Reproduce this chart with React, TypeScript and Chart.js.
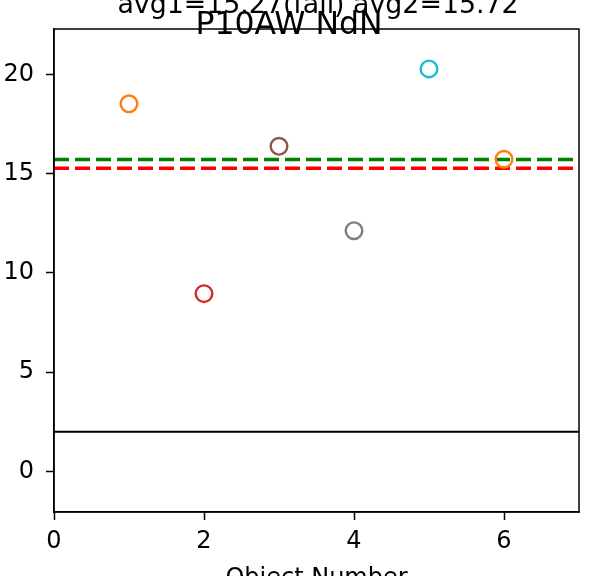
import React, { useEffect, useRef } from "react";
import { Chart, registerables } from "chart.js";

Chart.register(...registerables);

const objectNumbers = [1, 2, 3, 4, 5, 6];
const values = [18.52, 8.96, 16.38, 12.13, 20.28, 15.73];
const pointColors = ["#ff7f0e", "#d62728", "#8c564b", "#7f7f7f", "#17becf", "#ff7f0e"];
const avg1 = 15.27;
const avg2 = 15.72;
const threshold = 2;
const xTicks = [0, 2, 4, 6];
const yTicks = [0, 5, 10, 15, 20];
const titleTop = "avg1=15.27(fail) avg2=15.72";
const titleMain = "P10AW NdN";
const xLabel = "Object Number";

const FONT = "'DejaVu Sans', sans-serif";

const framePlugin = {
  id: "framePlugin",
  afterDraw(chart: any) {
    const { ctx, chartArea } = chart;
    ctx.save();
    ctx.strokeStyle = "#000";
    ctx.lineWidth = 1.5;
    ctx.strokeRect(chartArea.left, chartArea.top, chartArea.right - chartArea.left, chartArea.bottom - chartArea.top);
    ctx.fillStyle = "#000";
    ctx.textAlign = "center";
    ctx.textBaseline = "alphabetic";
    ctx.font = `26.8px ${FONT}`;
    ctx.fillText(titleTop, 318, 13);
    ctx.font = `31.5px ${FONT}`;
    ctx.fillText(titleMain, 289, 34);
    ctx.font = `24px ${FONT}`;
    ctx.fillText(xLabel, (chartArea.left + chartArea.right) / 2, 585);
    ctx.restore();
  },
};

export default function App() {
  const ref = useRef<HTMLCanvasElement>(null);
  useEffect(() => {
    if (!ref.current) return;
    const pts = objectNumbers.map((x, i) => ({ x, y: values[i] }));
    const chart = new Chart(ref.current, {
      type: "scatter",
      data: {
        datasets: [
          {
            type: "scatter",
            data: pts,
            pointRadius: 8.3,
            pointHoverRadius: 8.3,
            pointBorderWidth: 2.4,
            pointBackgroundColor: "rgba(0,0,0,0)",
            pointBorderColor: pointColors,
            order: 0,
          } as any,
          {
            type: "line",
            data: [{ x: 0, y: avg2 }, { x: 7, y: avg2 }],
            borderColor: "#008000",
            borderWidth: 3.5,
            borderDash: [15, 6],
            pointRadius: 0,
            order: 1,
          },
          {
            type: "line",
            data: [{ x: 0, y: avg1 }, { x: 7, y: avg1 }],
            borderColor: "#ff0000",
            borderWidth: 3.5,
            borderDash: [15, 6],
            pointRadius: 0,
            order: 2,
          },
          {
            type: "line",
            data: [{ x: 0, y: threshold }, { x: 7, y: threshold }],
            borderColor: "#000000",
            borderWidth: 2,
            pointRadius: 0,
            order: 3,
          },
        ],
      },
      options: {
        animation: false,
        responsive: false,
        devicePixelRatio: 1,
        layout: { padding: { top: 29, right: 11, left: 0, bottom: 0 } },
        plugins: { legend: { display: false }, tooltip: { enabled: false }, title: { display: false } },
        scales: {
          x: {
            type: "linear",
            min: 0,
            max: 7,
            afterFit: (s: any) => { s.height = 64; },
            afterBuildTicks: (s: any) => { s.ticks = xTicks.map((v) => ({ value: v })); },
            ticks: { font: { family: FONT, size: 24 }, color: "#000", padding: 7, maxRotation: 0 },
            grid: { drawOnChartArea: false, drawTicks: true, tickLength: 8, tickColor: "#000", tickWidth: 1.5 },
            border: { display: true, color: "#000", width: 1.5 },
          },
          y: {
            type: "linear",
            min: -2.04,
            max: 22.29,
            afterFit: (s: any) => { s.width = 54; },
            afterBuildTicks: (s: any) => { s.ticks = yTicks.map((v) => ({ value: v })); },
            ticks: { font: { family: FONT, size: 24 }, color: "#000", padding: 12 },
            grid: { drawOnChartArea: false, drawTicks: true, tickLength: 8, tickColor: "#000", tickWidth: 1.5 },
            border: { display: true, color: "#000", width: 1.5 },
          },
        },
      },
      plugins: [framePlugin],
    });
    return () => chart.destroy();
  }, []);
  return (
    <div style={{ position: "fixed", left: 0, top: 0, width: 590, height: 576, background: "#fff" }}>
      <canvas ref={ref} width={590} height={576} style={{ width: 590, height: 576 }} />
    </div>
  );
}
